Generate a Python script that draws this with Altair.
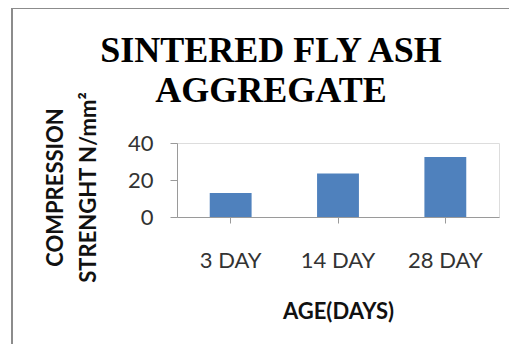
import altair as alt
import pandas as pd

days = ["3 DAY", "14 DAY", "28 DAY"]
strength = [13.0, 23.5, 32.5]

df = pd.DataFrame({"age": days, "strength": strength})
frame_df = pd.DataFrame({"k": [0]})

bars = alt.Chart(df).mark_bar(color="#4F81BD").encode(
    x=alt.X(
        "age:N",
        sort=days,
        scale=alt.Scale(paddingInner=0.61, paddingOuter=0.305),
        axis=alt.Axis(
            title="AGE(DAYS)",
            labelAngle=0,
            labelFont="Lato",
            labelFontSize=22,
            labelColor="#333333",
            labelBaseline="alphabetic",
            labelPadding=44,
            tickSize=6,
            tickColor="#9a9a9a",
            domainColor="#9a9a9a",
            titleFont="Lato",
            titleFontSize=22,
            titleFontWeight="bold",
            titleColor="#111111",
            titleBaseline="alphabetic",
            titleY=101,
        ),
    ),
    y=alt.Y(
        "strength:Q",
        scale=alt.Scale(domain=[0, 40]),
        axis=alt.Axis(
            title=["COMPRESSION", "STRENGHT N/mm²"],
            values=[0, 20, 40],
            grid=False,
            labelFont="Lato",
            labelFontSize=22,
            labelColor="#333333",
            labelPadding=17,
            tickSize=7,
            tickColor="#9a9a9a",
            domainColor="#9a9a9a",
            titleFont="Lato",
            titleFontSize=22,
            titleFontWeight="bold",
            titleColor="#111111",
            titleBaseline="alphabetic",
            titleAlign="center",
            titleLineHeight=33,
            titleX=-115,
            titleY=44,
        ),
    ),
)

frame_v = alt.Chart(frame_df).mark_rule(color="#8c8c8c", strokeWidth=2).encode(
    x=alt.value(-165), y=alt.value(-135), y2=alt.value(209)
)
frame_h = alt.Chart(frame_df).mark_rule(color="#8c8c8c", strokeWidth=2).encode(
    x=alt.value(-165), x2=alt.value(340), y=alt.value(-135)
)

chart = (
    alt.layer(frame_v, frame_h, bars)
    .properties(
        width=322,
        height=74,
        title=alt.TitleParams(
            text=["SINTERED FLY ASH", "AGGREGATE"],
            font="Liberation Serif",
            fontSize=36,
            fontWeight="bold",
            color="#000000",
            anchor="middle",
            lineHeight=40,
            dx=-67,
            dy=107,
        ),
        autosize=alt.AutoSizeParams(type="none"),
        padding={"left": 169, "top": 135, "right": 10, "bottom": 127},
    )
    .configure_view(stroke=None)
    .configure(background="white")
)

chart.save("out.html", embed_options={"renderer": "svg", "actions": False})
